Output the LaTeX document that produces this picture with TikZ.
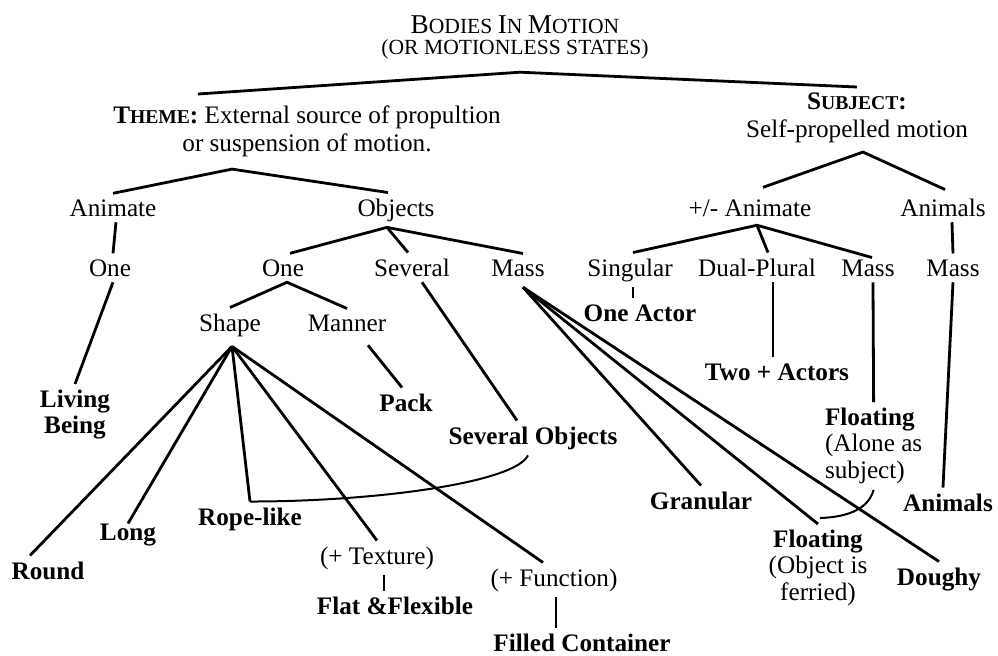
\documentclass[tikz,border=0pt]{standalone}
\usepackage{fontspec}
\setmainfont{Liberation Serif}
\newcommand{\labfont}{\fontsize{12.6}{13.25}\selectfont}
\newcommand{\titlecaps}[2]{{\fontsize{13.6}{10.5}\selectfont #1}{\fontsize{10.8}{10.5}\selectfont #2}}
\newcommand{\headcaps}[2]{#1{\fontsize{9.8}{14}\selectfont #2}}

\begin{document}
\begin{tikzpicture}[x=0.5pt, y=-0.5pt, line width=1.4pt,
    lab/.style={font=\labfont, inner sep=3pt, outer sep=0pt, anchor=base},
    blab/.style={lab, font=\labfont\bfseries},
    arcline/.style={line width=1pt}]
  \useasboundingbox (0,0) rectangle (998,655);

  % headings
  \node[align=center, anchor=north, inner sep=3pt,
        font=\fontsize{10.8}{10.5}\selectfont] (title) at (515,8)
    {\titlecaps{B}{ODIES} \titlecaps{I}{N} \titlecaps{M}{OTION}\\(OR MOTIONLESS STATES)};
  \node[lab, align=center, anchor=north, font=\fontsize{12.6}{14}\selectfont] (theme) at (307,100)
    {\textbf{\headcaps{T}{HEME}:} External source of propultion\\or suspension of motion.};
  \node[lab, align=center, anchor=north, font=\fontsize{12.6}{14}\selectfont] (subject) at (857,87)
    {\textbf{\headcaps{S}{UBJECT}:}\\Self-propelled motion};

  % theme side
  \node[lab] (animate) at (113,216) {Animate};
  \node[lab] (objects) at (396,216) {Objects};
  \node[lab] (one1) at (110,276) {One};
  \node[lab] (one2) at (283,276) {One};
  \node[lab] (several) at (412,276) {Several};
  \node[lab] (mass1) at (518,276) {Mass};
  \node[lab] (shape) at (230,331) {Shape};
  \node[lab] (manner) at (347,331) {Manner};
  \node[blab, align=center, anchor=north] (living) at (75,384) {Living\\Being};
  \node[blab] (pack) at (406,411) {Pack};
  \node[blab] (sevobj) at (533,444) {Several Objects};
  \node[blab] (rope) at (250,525) {Rope-like};
  \node[blab] (long) at (128,540) {Long};
  \node[blab] (round) at (48,579) {Round};
  \node[lab] (texture) at (377,564) {(+ Texture)};
  \node[blab] (flat) at (395,614) {Flat \&Flexible};
  \node[lab] (function) at (554,586) {(+ Function)};
  \node[blab] (filled) at (582,651) {Filled Container};
  \node[blab] (granular) at (701,509) {Granular};
  \node[lab, align=center, anchor=north] (floatB) at (818,524) {\textbf{Floating}\\(Object is\\ferried)};
  \node[blab] (doughy) at (939,585) {Doughy};

  % subject side
  \node[lab] (plusanim) at (750,216) {+/- Animate};
  \node[lab] (animals1) at (943,216) {Animals};
  \node[lab] (singular) at (630,276) {Singular};
  \node[lab] (dual) at (757,276) {Dual-Plural};
  \node[lab] (mass2) at (868,276) {Mass};
  \node[lab] (mass3) at (953,276) {Mass};
  \node[blab] (oneactor) at (640,321) {One Actor};
  \node[blab] (twoactors) at (777,380) {Two + Actors};
  \node[lab, align=left, anchor=north west] (floatA) at (819,402) {\textbf{Floating}\\(Alone as\\subject)};
  \node[blab] (animals2) at (948,511) {Animals};

  % branch points
  \coordinate (titleJ) at ([xshift=2.5pt,yshift=-3pt]title.south);
  \coordinate (themeJ) at ([xshift=-37.5pt,yshift=-3pt]theme.south);
  \coordinate (subjectJ) at ([xshift=3pt,yshift=-1.5pt]subject.south);
  \coordinate (objectsJ) at ([xshift=-4.5pt]objects.south);
  \coordinate (plusJ) at ([xshift=3.5pt,yshift=-1.5pt]plusanim.south);
  \coordinate (oneJ) at ([xshift=2pt]one2.south);
  \coordinate (massJ) at ([xshift=2.5pt,yshift=-2.5pt]mass1.south);
  \coordinate (shapeJ) at ([xshift=1pt,yshift=-2pt]shape.south);

  \draw ([xshift=-54.5pt,yshift=3pt]theme.north) -- (titleJ) -- (subject.north);

  \draw (animate.north) -- (themeJ) -- ([xshift=-4pt]objects.north);
  \draw ([xshift=1.5pt]animate.south) -- ([xshift=1.5pt]one1.north);
  \draw ([xshift=1.5pt]one1.south) -- (living.north);
  \draw ([xshift=3.5pt]one2.north) -- (objectsJ) -- ([xshift=2.5pt]mass1.north);
  \draw (objectsJ) -- ([xshift=-2pt]several.north);
  \draw ([xshift=5pt]several.south) -- ([xshift=-8pt]sevobj.north);
  \draw (shape.north) -- (oneJ) -- (manner.north);
  \draw ([xshift=10.5pt,yshift=-4pt]manner.south) -- ([xshift=-2pt]pack.north);
  \draw (shapeJ) -- ([xshift=-9pt]round.north);
  \draw (shapeJ) -- ([yshift=-3pt]long.north);
  \draw (shapeJ) -- (rope.north);
  \draw (shapeJ) -- (texture.north);
  \draw (shapeJ) -- ([xshift=-5.5pt]function.north);
  \draw ([xshift=3.5pt]texture.south) -- ([xshift=-5.5pt]flat.north);
  \draw ([xshift=1pt]function.south) -- ([xshift=-13pt]filled.north);
  \draw[arcline] (rope.north) .. controls +(128,0) and +(-13,27) .. ([xshift=-2.5pt]sevobj.south);
  \foreach \n in {granular, floatB, doughy}
    \draw (massJ) -- (\n.north);

  \draw ([xshift=6.5pt,yshift=3pt]plusanim.north) -- (subjectJ) -- ([xshift=1pt,yshift=1.5pt]animals1.north);
  \draw ([xshift=1.5pt]singular.north) -- (plusJ) -- ([xshift=2pt,yshift=-2pt]mass2.north);
  \draw (plusJ) -- ([xshift=5.5pt]dual.north);
  \draw ([xshift=1.5pt]singular.south) -- ([xshift=-3.5pt]oneactor.north);
  \draw ([xshift=8pt]dual.south) -- ([xshift=-2pt]twoactors.north);
  \draw ([xshift=2.5pt]mass2.south) -- (floatA.north);
  \draw ([xshift=4.5pt]animals1.south) -- (mass3.north);
  \draw (mass3.south) -- ([xshift=-2.5pt]animals2.north);
  \draw[arcline] ([xshift=1pt,yshift=3pt]floatB.north) .. controls +(30,-1) and +(-5,18) .. (floatA.south);
\end{tikzpicture}
\end{document}
